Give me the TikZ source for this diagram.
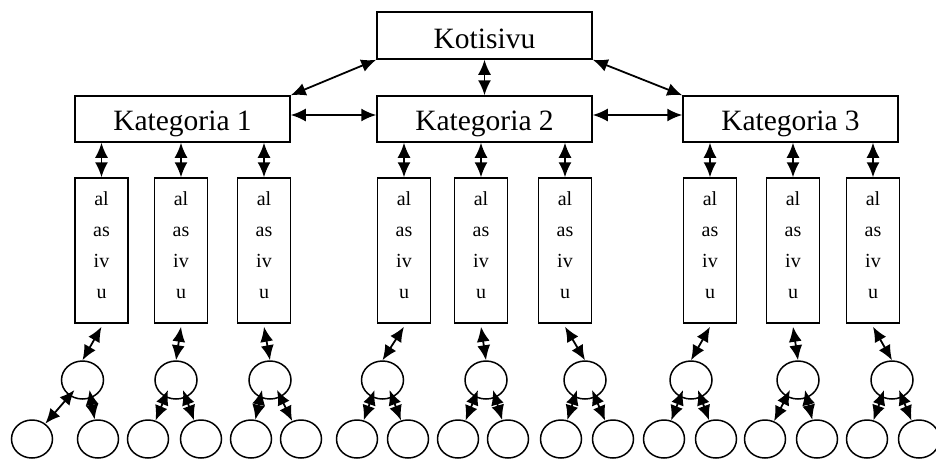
\documentclass[tikz,border=0pt]{standalone}
\usepackage{fontspec}
\setmainfont{Liberation Serif}
\usetikzlibrary{arrows.meta,shapes.geometric}
\begin{document}
\begin{tikzpicture}[x=1pt,y=-1pt,
  box/.style={draw, line width=1.5pt, rectangle, inner sep=0pt},
  catbox/.style={box, minimum width=215pt, minimum height=46pt, font=\fontsize{29.5}{31}\selectfont, text height=24pt, text depth=2pt},
  alabox/.style={box, minimum width=53pt, minimum height=145pt},
  alatext/.style={align=center, font=\fontsize{20}{31}\selectfont, inner sep=0pt},
  circ/.style={draw, ellipse, line width=1.5pt, minimum width=42pt, minimum height=38pt, inner sep=0pt},
  leaf/.style={circ, minimum width=41pt, minimum height=38pt},
  arr/.style={{Latex[length=15pt,width=13pt]}-{Latex[length=15pt,width=13pt]}, line width=1.8pt}]
\useasboundingbox (0,0) rectangle (936,459);
\node[catbox, minimum height=47pt, text height=25pt, text depth=0pt] (home) at (484.5,35.5) {Kotisivu};
\node[catbox] (k1) at (182.5,119) {Kategoria 1};
\node[catbox] (k2) at (484.5,119) {Kategoria 2};
\node[catbox] (k3) at (790.5,119) {Kategoria 3};
\draw[arr] (home.south west) -- (k1.north east);
\draw[arr] (home.south) -- (k2.north);
\draw[arr] (home.south east) -- (k3.north west);
\draw[arr] ([yshift=4pt]k1.east) -- ([yshift=4pt]k2.west);
\draw[arr] ([yshift=4pt]k2.east) -- ([yshift=4pt]k3.west);
\foreach \i/\x/\k/\mx in {1/101.5/1/82.5, 2/181/1/176, 3/264/1/270, 4/404/2/382.5, 5/481/2/486, 6/565/2/585, 7/710/3/691, 8/793/3/798, 9/873/3/892} {
  \node[alabox] (a\i) at (\x,250.5) {};
  \node[alatext] (t\i) at ([yshift=5pt]a\i.center) {al\\as\\iv\\u};
  \draw[arr] (k\k.south -| a\i.north) -- (a\i.north);
  \node[circ] (m\i) at (\mx,380) {};
  \draw[arr] ([yshift=-3pt]a\i.south) -- (m\i.north);
}
\foreach \i/\xa/\xb in {1/32/98, 2/148/201, 3/251/301, 4/357/408, 5/458/508, 6/561/613, 7/664/716, 8/765/817, 9/867/919} {
  \node[leaf] (la\i) at (\xa,439) {};
  \node[leaf] (lb\i) at (\xb,439) {};
  \draw[arr] ([xshift=-8pt,yshift=-10pt]m\i.center) -- (la\i);
  \draw[arr] ([xshift=7pt,yshift=-10pt]m\i.center) -- (lb\i);
}
\end{tikzpicture}
\end{document}
